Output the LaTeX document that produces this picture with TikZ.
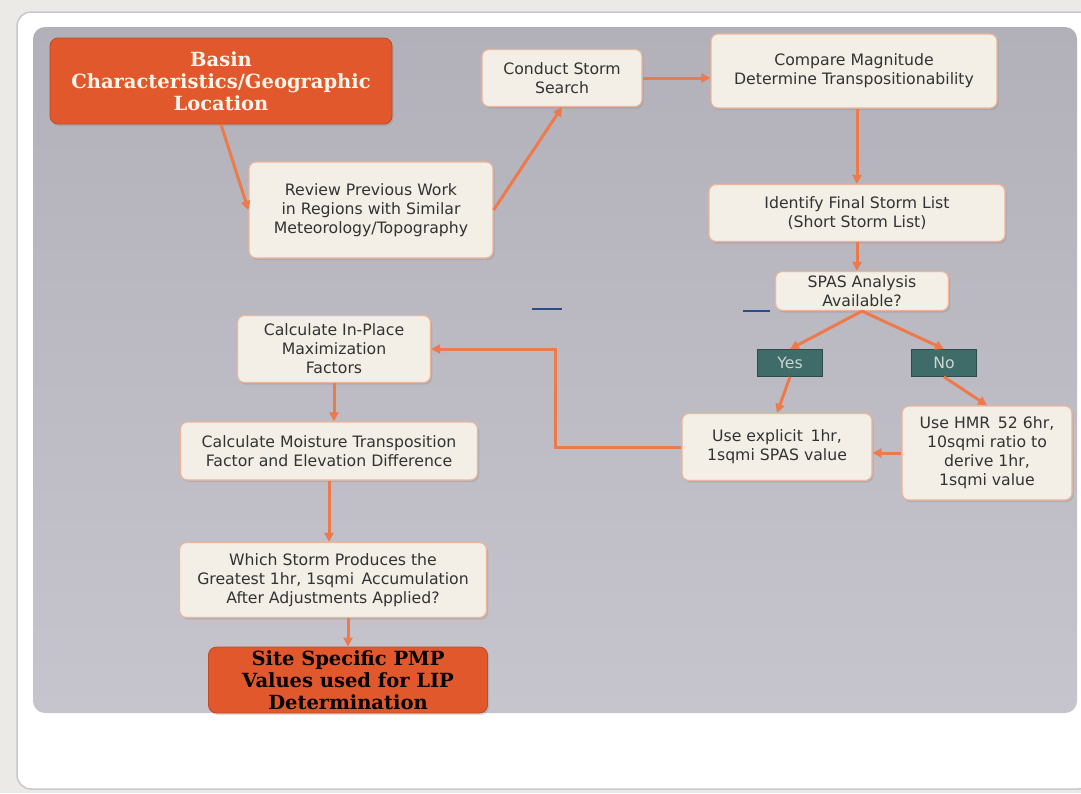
\documentclass[tikz,border=0pt]{standalone}
\usepackage{fontspec}
\setmainfont{DejaVu Sans}
\newfontfamily\headfont{DejaVu Serif}
\usetikzlibrary{arrows.meta,shadows}

\definecolor{pagebg}{HTML}{ECEAE6}
\definecolor{cardedge}{HTML}{C9C7CC}
\definecolor{paneltop}{HTML}{B2B0B8}
\definecolor{panelbottom}{HTML}{C6C4CC}
\definecolor{boxfill}{HTML}{F3EEE6}
\definecolor{boxedge}{HTML}{EDB59A}
\definecolor{textgray}{HTML}{333333}
\definecolor{flowred}{HTML}{E0582B}
\definecolor{flowarrow}{HTML}{EE7A4C}
\definecolor{tealbox}{HTML}{3F6B69}
\definecolor{tealtext}{HTML}{C9D6D2}
\definecolor{dashblue}{HTML}{2B4C8C}

\begin{document}
\begin{tikzpicture}[x=1pt,y=-1pt,
  every node/.style={font=\fontsize{15.7}{19}\selectfont},
  stepbox/.style={draw=boxedge, line width=1.2pt, fill=boxfill, rounded corners=7pt,
    align=center, text=textgray, inner sep=0pt,
    drop shadow={opacity=0.25, shadow xshift=1.5pt, shadow yshift=-2pt}},
  headbox/.style={fill=flowred, draw=flowred!85!black, line width=0.8pt, rounded corners=8pt,
    align=center, inner sep=0pt, font=\headfont\bfseries\fontsize{19.5}{22}\selectfont,
    drop shadow={opacity=0.25, shadow xshift=1.5pt, shadow yshift=-2pt}},
  answer/.style={fill=tealbox, draw=tealbox!70!black, line width=0.8pt, text=tealtext,
    inner sep=0pt, minimum width=65pt, minimum height=27pt},
  flow/.style={draw=flowarrow, line width=3pt, -{Triangle[length=9pt,width=9pt]}}]

% page and panel
\useasboundingbox (0,0) rectangle (1081,793);
\fill[pagebg] (0,0) rectangle (1081,793);
\draw[cardedge, fill=white, line width=1.5pt, rounded corners=14pt] (17,12) rectangle (1092,789);
\shade[top color=paneltop, bottom color=panelbottom, rounded corners=12pt] (33,27) rectangle (1077,713);
\draw[dashblue, line width=1.2pt] (532,309) -- (562,309);
\draw[dashblue, line width=1.2pt] (743,311) -- (770,311);

% nodes
\node[headbox, text=white!92!orange, minimum width=342pt, minimum height=86pt] (basin) at (221,81) {Basin\\Characteristics/Geographic\\Location};
\node[stepbox, minimum width=244pt, minimum height=96pt] (review) at (371,210) {Review Previous Work\\in Regions with Similar\\Meteorology/Topography};
\node[stepbox, minimum width=160pt, minimum height=57pt] (search) at (562,78) {Conduct Storm\\Search};
\node[stepbox, minimum width=286pt, minimum height=74pt] (compare) at (854,71) {Compare Magnitude\\Determine Transpositionability};
\node[stepbox, minimum width=296pt, minimum height=57pt] (shortlist) at (857,213) {Identify Final Storm List\\(Short Storm List)};
\node[stepbox, minimum width=173pt, minimum height=39pt] (spas) at (862,291) {SPAS Analysis\\Available?};
\node[answer] (yes) at (790,363) {Yes};
\node[answer] (no) at (944,363) {No};
\node[stepbox, minimum width=190pt, minimum height=67pt] (explicit) at (777,447) {Use explicit\, 1hr,\\1sqmi SPAS value};
\node[stepbox, minimum width=170pt, minimum height=94pt] (hmr) at (987,453) {Use HMR\, 52 6hr,\\10sqmi ratio to\\derive 1hr,\\1sqmi value};
\node[stepbox, minimum width=193pt, minimum height=67pt] (inplace) at (334,349) {Calculate In-Place\\Maximization\\Factors};
\node[stepbox, minimum width=297pt, minimum height=58pt] (moisture) at (329,451) {Calculate Moisture Transposition\\Factor and Elevation Difference};
\node[stepbox, minimum width=307pt, minimum height=75pt] (greatest) at (333,580) {Which Storm Produces the\\Greatest 1hr, 1sqmi\, Accumulation\\After Adjustments Applied?};
\node[headbox, text=black, minimum width=279pt, minimum height=66pt] (pmp) at (348,680) {Site Specific PMP\\Values used for LIP\\Determination};

% connectors
\coordinate (turn) at (555,447);
\draw[flow] (basin.south) -- (review.west);
\draw[flow] (review.east) -- (search.south);
\draw[flow] (search.east) -- (compare.west |- search.east);
\draw[flow] (compare.south -| shortlist.north) -- (shortlist.north);
\draw[flow] (shortlist.south) -- (spas.north -| shortlist.south);
\draw[flow] (spas.south) -- (yes.north);
\draw[flow] (spas.south) -- (no.north);
\draw[flow] (yes.south) -- (explicit.north);
\draw[flow] (no.south) -- (hmr.north);
\draw[flow] (hmr.west) -- (hmr.west -| explicit.east);
\draw[flow] (explicit.west) -- (turn) |- (inplace.east);
\draw[flow] (inplace.south) -- (inplace.south |- moisture.north);
\draw[flow] (moisture.south) -- (moisture.south |- greatest.north);
\draw[flow] (pmp.north |- greatest.south) -- (pmp.north);
\end{tikzpicture}
\end{document}
